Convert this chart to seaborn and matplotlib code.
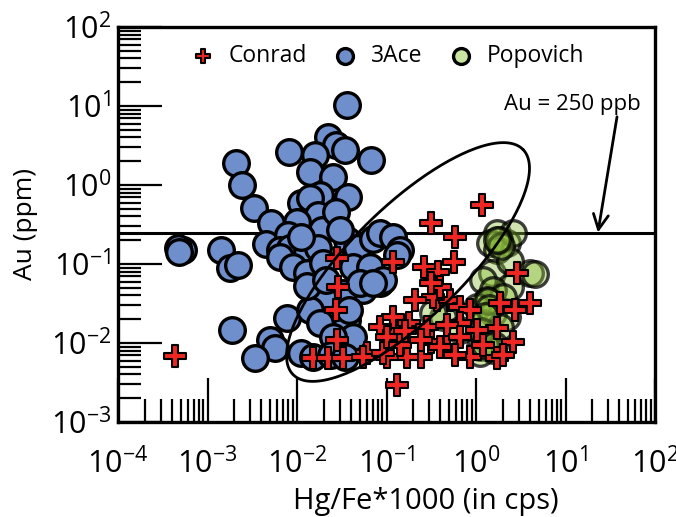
import numpy as np
import pandas as pd
import matplotlib
matplotlib.use("Agg")
import matplotlib.pyplot as plt
from matplotlib.path import Path
from matplotlib.markers import MarkerStyle
from matplotlib.ticker import LogLocator, FuncFormatter, NullFormatter
import seaborn as sns

sns.set_theme(style="white")
plt.rcParams["font.family"] = ["Open Sans", "DejaVu Sans"]
plt.rcParams["mathtext.fontset"] = "custom"
plt.rcParams["mathtext.rm"] = "Open Sans"
plt.rcParams["mathtext.default"] = "rm"
for k in ["text.color", "axes.labelcolor", "xtick.color", "ytick.color"]:
    plt.rcParams[k] = "black"

# 3Ace samples
ace_hg = [0.036, 0.0021, 0.0024, 0.0033, 0.0051, 0.0045, 0.0081, 0.022, 0.027, 0.034,
          0.067, 0.016, 0.014, 0.025, 0.018, 0.037, 0.011, 0.014, 0.017, 0.010,
          0.0079, 0.019, 0.0065, 0.0084, 0.013, 0.017, 0.036, 0.047, 0.071, 0.085,
          0.118, 0.142, 0.0014, 0.0018, 0.0022, 0.00053, 0.00047, 0.00048, 0.0065, 0.009,
          0.013, 0.0195, 0.042, 0.085, 0.055, 0.033, 0.015, 0.0195, 0.0077, 0.014,
          0.018, 0.036, 0.042, 0.025, 0.011, 0.015, 0.0019, 0.005, 0.0057, 0.0034,
          0.131, 0.065, 0.091, 0.051, 0.071, 0.024, 0.034, 0.027, 0.011, 0.03,
          0.013, 0.021, 0.038]
ace_au = [10.3, 1.9, 1.0, 0.51, 0.33, 0.18, 2.6, 4.05, 3.2, 2.8,
          2.1, 2.4, 1.46, 1.26, 0.75, 0.70, 0.59, 0.68, 0.42, 0.34,
          0.23, 0.27, 0.15, 0.16, 0.14, 0.16, 0.20, 0.16, 0.21, 0.25,
          0.22, 0.15, 0.15, 0.089, 0.097, 0.15, 0.16, 0.14, 0.123, 0.092,
          0.077, 0.103, 0.092, 0.057, 0.047, 0.043, 0.047, 0.037, 0.021, 0.026,
          0.018, 0.0195, 0.012, 0.012, 0.0075, 0.0067, 0.0146, 0.0109, 0.0086, 0.0065,
          0.13, 0.092, 0.063, 0.057, 0.057, 0.007, 0.0067, 0.45, 0.22, 0.27,
          0.053, 0.063, 0.026]

# Popovich samples
pop_hg = [1.72, 2.2, 1.43, 1.72, 1.5, 1.2, 4.0, 4.5, 2.4, 1.55,
          2.0, 1.33, 1.03, 1.55, 2.2, 1.2, 1.85, 1.33, 1.11, 1.55,
          1.11, 0.43, 0.33, 0.66, 2.4, 2.6, 1.8, 1.9, 1.35, 1.4,
          1.15, 1.25, 1.6, 1.7, 1.25]
pop_au = [0.247, 0.184, 0.184, 0.15, 0.077, 0.063, 0.077, 0.075, 0.051, 0.047,
          0.038, 0.035, 0.0286, 0.024, 0.0213, 0.0179, 0.016, 0.0109, 0.0089, 0.0082,
          0.0075, 0.0213, 0.024, 0.0146, 0.11, 0.25, 0.2, 0.17, 0.034, 0.028,
          0.014, 0.0095, 0.0095, 0.2, 0.022]

# Conrad samples
con_hg = [0.00043, 1.17, 0.31, 0.58, 0.57, 0.26, 0.38, 0.028, 0.118, 2.87,
          1.85, 4.0, 2.7, 1.72, 2.6, 1.72, 0.86, 0.47, 0.31, 0.24,
          0.17, 0.118, 0.118, 0.085, 0.18, 0.28, 0.37, 0.51, 0.66, 0.86,
          0.66, 0.47, 0.33, 0.40, 0.31, 0.06, 0.10, 0.131, 1.03, 0.66,
          0.40, 0.029, 0.027, 0.028, 0.015, 0.022, 0.033, 0.055, 0.091, 0.10,
          2.0, 0.21, 0.14, 0.58, 1.2, 0.24, 0.16]
con_au = [0.0068, 0.56, 0.33, 0.22, 0.106, 0.092, 0.079, 0.119, 0.106, 0.077,
          0.032, 0.032, 0.026, 0.0155, 0.0103, 0.0065, 0.0067, 0.0089, 0.0103, 0.0067,
          0.0067, 0.0134, 0.0213, 0.016, 0.0179, 0.016, 0.035, 0.035, 0.0286, 0.026,
          0.0179, 0.0169, 0.038, 0.051, 0.057, 0.0075, 0.0067, 0.0029, 0.0146, 0.0119,
          0.0089, 0.051, 0.026, 0.0109, 0.0065, 0.0065, 0.0065, 0.0067, 0.0075, 0.0119,
          0.007, 0.035, 0.0095, 0.007, 0.0095, 0.011, 0.014]

au_cutoff = 0.25

# outline of field, ellipse in log10 space: centre, two half-axes
field_centre = (-0.76, -0.975)
field_axis_a = (1.285, 1.424)
field_axis_b = (0.437, -0.506)

ace = pd.DataFrame({"hg": ace_hg, "au": ace_au})
pop = pd.DataFrame({"hg": pop_hg, "au": pop_au})
con = pd.DataFrame({"hg": con_hg, "au": con_au})

# plus a bit slimmer than matplotlib's "P"
w = 0.29
plus = MarkerStyle(Path([(-w, 1), (w, 1), (w, w), (1, w), (1, -w), (w, -w), (w, -1),
                         (-w, -1), (-w, -w), (-1, -w), (-1, w), (-w, w), (-w, 1)],
                        closed=True))

fig = plt.figure(figsize=(6.76, 5.17), dpi=100)
ax = fig.add_axes([0.1746, 0.1838, 0.7944, 0.764])
ax.set_xscale("log")
ax.set_yscale("log")

ax.axhline(au_cutoff, color="black", lw=2.2, zorder=1)

sns.scatterplot(data=ace, x="hg", y="au", ax=ax, s=340, color="#6f8fcc",
                edgecolor="black", linewidth=2.4, label="3Ace", zorder=2)
sns.scatterplot(data=pop, x="hg", y="au", ax=ax, s=340,
                facecolor=(0.55, 0.74, 0.24, 0.4), edgecolor=(0, 0, 0, 0.75),
                linewidth=2.4, label="Popovich", zorder=3)
sns.scatterplot(data=con, x="hg", y="au", ax=ax, s=270, marker=plus, color="#ee2724",
                edgecolor="black", linewidth=1.5, label="Conrad", zorder=4)

t = np.linspace(0, 2 * np.pi, 300)
ex = field_centre[0] + field_axis_a[0] * np.cos(t) + field_axis_b[0] * np.sin(t)
ey = field_centre[1] + field_axis_a[1] * np.cos(t) + field_axis_b[1] * np.sin(t)
ax.plot(10 ** ex, 10 ** ey, color="black", lw=2, zorder=5)

ax.text(11.8, 10.3, "Au = 250 ppb", ha="center", va="center", fontsize=16)
ax.annotate("", xy=(23, au_cutoff), xytext=(37.6, 7.3),
            arrowprops=dict(arrowstyle="->,head_length=0.9,head_width=0.45",
                            color="black", lw=2, shrinkA=0, shrinkB=0))

ax.set_xlim(1e-4, 1e2)
ax.set_ylim(1e-3, 1e2)

fmt = FuncFormatter(lambda v, p: r"$10^{%d}$" % round(np.log10(v)))
for axis in (ax.xaxis, ax.yaxis):
    axis.set_major_locator(LogLocator(base=10, numticks=10))
    axis.set_minor_locator(LogLocator(base=10, subs=np.arange(2, 10), numticks=10))
    axis.set_major_formatter(fmt)
    axis.set_minor_formatter(NullFormatter())

ax.tick_params(which="major", direction="in", length=32, width=1.6, labelsize=22,
               bottom=True, left=True, top=False, right=False)
ax.tick_params(which="minor", direction="in", length=16.5, width=1.6,
               bottom=True, left=True, top=False, right=False)
ax.tick_params(axis="x", which="major", pad=19)
ax.tick_params(axis="y", which="major", pad=5)

for sp in ax.spines.values():
    sp.set_color("black")
    sp.set_linewidth(2.4)

ax.set_xlabel("Hg/Fe*1000 (in cps)", fontsize=21)
ax.set_ylabel("Au (ppm)", fontsize=19, labelpad=9)
ax.xaxis.set_label_coords(0.574, -0.165)

handles, labels = ax.get_legend_handles_labels()
order = [labels.index(n) for n in ["Conrad", "3Ace", "Popovich"]]
leg = ax.legend([handles[i] for i in order], [labels[i] for i in order],
                loc="upper center", ncol=3, frameon=False, fontsize=16.5,
                markerscale=0.62, handlelength=1.2, handletextpad=0.5,
                columnspacing=1.1, bbox_to_anchor=(0.5, 1.01))
leg.legend_handles[2].set_facecolor("#c9e4a0")
leg.legend_handles[2].set_edgecolor("black")

fig.savefig("out.png", dpi=100)
